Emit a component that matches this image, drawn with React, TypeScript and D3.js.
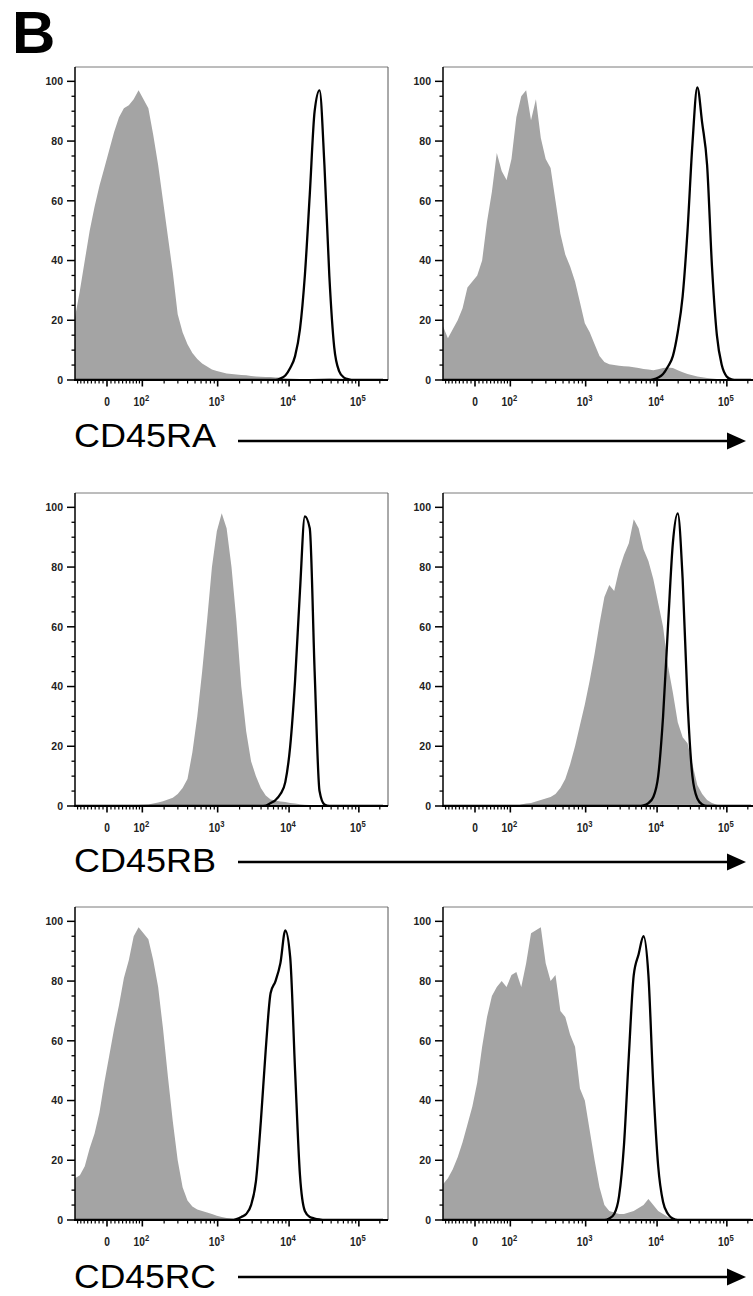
import React from 'react';
import * as d3 from 'd3';

// histogram bins, display channels (256 channel logicle axis)
const channels = [
  0, 4, 8, 12, 16, 20, 24, 28, 32, 36, 40, 44, 48, 52, 56, 60,
  64, 68, 72, 76, 80, 84, 88, 92, 96, 100, 104, 108, 112, 116, 120, 124,
  128, 132, 136, 140, 144, 148, 152, 156, 160, 164, 168, 172, 176, 180, 184, 188,
  192, 196, 200, 204, 208, 212, 216, 220, 224, 228, 232, 236, 240, 244, 248, 252,
];

const markers = ['CD45RA', 'CD45RB', 'CD45RC'];

const yTicks = [0, 20, 40, 60, 80, 100];
const yMinorTicks = [5, 10, 15, 25, 30, 35, 45, 50, 55, 65, 70, 75, 85, 90, 95];
const xTicks = [0, 100, 1000, 10000, 100000];
const xTickExp = ['', '2', '3', '4', '5'];
const xMinorTicks = [
  -80, -70, -60, -50, -40, -30, -20, -10,
  10, 20, 30, 40, 50, 60, 70, 80, 90,
  200, 300, 400, 500, 600, 700, 800, 900,
  2000, 3000, 4000, 5000, 6000, 7000, 8000, 9000,
  20000, 30000, 40000, 50000, 60000, 70000, 80000, 90000,
  200000,
];

// % of max, grey = control, black = stained
const raLeftGrey = [
  21, 30, 40, 50, 58, 65, 71, 77, 83, 88,
  91, 92, 94, 97, 94, 91, 82, 72, 60, 48,
  36, 22, 16, 12, 9, 7, 5.5, 4.5, 3.5, 3,
  2.6, 2.2, 2, 1.8, 1.7, 1.6, 1.3, 1.2, 1.1, 1,
  1, 0.8, 0.8, 0.6, 0.5, 0.4, 0.3, 0.3, 0.3, 0.4,
  0.5, 0.6, 0.7, 0.6, 0.5, 0.4, 0.3, 0.2, 0.1, 0,
  0, 0, 0, 0,
];
const raLeftBlack = [
  0, 0, 0, 0, 0, 0, 0, 0, 0, 0,
  0, 0, 0, 0, 0, 0, 0, 0, 0, 0,
  0, 0, 0, 0, 0, 0, 0, 0, 0, 0,
  0, 0, 0, 0, 0, 0, 0, 0, 0, 0,
  0, 0, 0.5, 1.5, 4, 8, 17, 35, 62, 90,
  97, 72, 35, 11, 3, 0.8, 0.2, 0, 0, 0,
  0, 0, 0, 0,
];
const raRightGrey = [
  18, 14, 17, 20, 24, 31, 33, 35, 40, 53,
  63, 76, 70, 67, 74, 88, 95, 97, 87, 94,
  81, 74, 71, 60, 49, 42, 38, 33, 26, 19,
  16, 12, 8, 6, 5.3, 5, 4.8, 4.6, 4.5, 4.3,
  4, 3.7, 3.5, 3.3, 3.6, 4, 4.2, 4, 3.3, 2.6,
  2, 1.6, 1.2, 0.9, 0.7, 0.5, 0.3, 0.2, 0, 0,
  0, 0, 0, 0,
];
const raRightBlack = [
  0, 0, 0, 0, 0, 0, 0, 0, 0, 0,
  0, 0, 0, 0, 0, 0, 0, 0, 0, 0,
  0, 0, 0, 0, 0, 0, 0, 0, 0, 0,
  0, 0, 0, 0, 0, 0, 0, 0, 0, 0,
  0, 0, 0, 0.2, 0.8, 2, 4.5, 8, 16, 28,
  50, 79, 98, 86, 72, 38, 15, 5, 1.2, 0.2,
  0, 0, 0, 0,
];
const rbLeftGrey = [
  0, 0, 0, 0, 0, 0, 0, 0, 0, 0,
  0.1, 0.2, 0.2, 0.3, 0.4, 0.5, 0.8, 1.2, 1.6, 2.2,
  2.8, 4, 6, 9, 18, 30, 45, 62, 80, 92,
  98, 93, 80, 62, 40, 25, 15, 10, 6, 3.5,
  2.2, 1.8, 1.5, 1.3, 1, 0.8, 0.6, 0.4, 0.3, 0.2,
  0, 0, 0, 0, 0, 0, 0, 0, 0, 0,
  0, 0, 0, 0,
];
const rbLeftBlack = [
  0, 0, 0, 0, 0, 0, 0, 0, 0, 0,
  0, 0, 0, 0, 0, 0, 0, 0, 0, 0,
  0, 0, 0, 0, 0, 0, 0, 0, 0, 0,
  0, 0, 0, 0, 0, 0, 0, 0, 0, 0.1,
  1, 2, 4, 8, 20, 42, 72, 97, 93, 45,
  5, 0.5, 0, 0, 0, 0, 0, 0, 0, 0,
  0, 0, 0, 0,
];
const rbRightGrey = [
  0, 0, 0, 0, 0, 0, 0, 0, 0, 0,
  0, 0, 0, 0, 0, 0, 0.5, 0.8, 1, 1.5,
  2, 2.5, 3, 4, 6, 9, 14, 20, 27, 34,
  42, 51, 61, 70, 74, 72, 79, 84, 88, 96,
  93, 86, 82, 76, 68, 60, 47, 38, 28, 23,
  21, 14, 7, 4, 2, 1, 0.4, 0, 0, 0,
  0, 0, 0, 0,
];
const rbRightBlack = [
  0, 0, 0, 0, 0, 0, 0, 0, 0, 0,
  0, 0, 0, 0, 0, 0, 0, 0, 0, 0,
  0, 0, 0, 0, 0, 0, 0, 0, 0, 0,
  0, 0, 0, 0, 0, 0, 0, 0, 0, 0,
  0, 0.2, 1, 3, 10, 30, 60, 88, 98, 76,
  35, 10, 2.5, 0.5, 0, 0, 0, 0, 0, 0,
  0, 0, 0, 0,
];
const rcLeftGrey = [
  14, 15, 18, 24, 29, 36, 46, 55, 64, 72,
  81, 87, 95, 98, 96, 94, 87, 78, 64, 48,
  33, 20, 11, 6.5, 4.5, 3.5, 3, 2.5, 2, 1.4,
  1, 0.7, 0.5, 0.3, 0.2, 0.2, 0.2, 0.2, 0.1, 0.1,
  0, 0, 0, 0, 0, 0, 0, 0, 0, 0,
  0, 0, 0, 0, 0, 0, 0, 0, 0, 0,
  0, 0, 0, 0,
];
const rcLeftBlack = [
  0, 0, 0, 0, 0, 0, 0, 0, 0, 0,
  0, 0, 0, 0, 0, 0, 0, 0, 0, 0,
  0, 0, 0, 0, 0, 0, 0, 0, 0, 0,
  0, 0, 0, 0.3, 1, 2, 5, 13, 33, 57,
  76, 80, 86, 97, 88, 50, 15, 3, 1, 0.5,
  0.2, 0, 0, 0, 0, 0, 0, 0, 0, 0,
  0, 0, 0, 0,
];
const rcRightGrey = [
  12, 14, 17, 21, 26, 32, 38, 46, 58, 68,
  75, 78, 80, 78, 82, 83, 78, 86, 96, 97,
  98, 86, 80, 82, 70, 68, 62, 58, 44, 40,
  30, 20, 11, 5, 3, 2.5, 2, 2, 2.5, 3,
  4, 5, 7, 5, 3, 2, 1, 0.5, 0.3, 0,
  0, 0, 0, 0, 0, 0, 0, 0, 0, 0,
  0, 0, 0, 0,
];
const rcRightBlack = [
  0, 0, 0, 0, 0, 0, 0, 0, 0, 0,
  0, 0, 0, 0, 0, 0, 0, 0, 0, 0,
  0, 0, 0, 0, 0, 0, 0, 0, 0, 0,
  0, 0, 0, 0, 0.5, 2, 8, 25, 55, 82,
  89, 95, 82, 45, 18, 6, 2, 0.5, 0, 0,
  0, 0, 0, 0, 0, 0, 0, 0, 0, 0,
  0, 0, 0, 0,
];

const rows = [
  { label: markers[0], panels: [[raLeftGrey, raLeftBlack], [raRightGrey, raRightBlack]] },
  { label: markers[1], panels: [[rbLeftGrey, rbLeftBlack], [rbRightGrey, rbRightBlack]] },
  { label: markers[2], panels: [[rcLeftGrey, rcLeftBlack], [rcRightGrey, rcRightBlack]] },
];

// layout
const PW = 313;
const PH = 313;
const colX = [75, 443];
const rowY = [67, 493, 907];
const labelBase = [447, 872, 1288];
const arrowY = [441, 862, 1277];
const FONT = '"Liberation Sans", Arial, Helvetica, sans-serif';

// logicle (biexponential) display transform, like FlowJo
const T = 262144;
const M = 4.5;
const W = 0.46;
const solveP = (w: number) => {
  let lo = 1.0001;
  let hi = 50;
  for (let k = 0; k < 80; k++) {
    const p = (lo + hi) / 2;
    if ((2 * p * Math.log10(p)) / (p + 1) < w) lo = p;
    else hi = p;
  }
  return (lo + hi) / 2;
};
const P = solveP(W);
const biexp = (yd: number) => {
  const d = yd - W;
  const a = Math.abs(d);
  const v = T * Math.pow(10, -(M - W)) * (Math.pow(10, a) - P * P * Math.pow(10, -a / P) + P * P - 1);
  return d < 0 ? -v : v;
};
const toChannel = (v: number) => {
  let lo = 0;
  let hi = M;
  for (let k = 0; k < 60; k++) {
    const mid = (lo + hi) / 2;
    if (biexp(mid) < v) lo = mid;
    else hi = mid;
  }
  return ((lo + hi) / 2 / M) * 256;
};

const x = d3.scaleLinear().domain([0, 256]).range([0, PW]);
const y = d3.scaleLinear().domain([0, 104.8]).range([PH, 0]);

const greyArea = d3
  .area<number>()
  .x((d, i) => x(channels[i]))
  .y0(PH)
  .y1((d) => y(d));
const blackLine = d3
  .line<number>()
  .x((d, i) => x(channels[i]))
  .y((d) => y(d))
  .curve(d3.curveMonotoneX);

function Panel({ left, top, grey, black, id }: any) {
  return (
    <g transform={`translate(${left},${top})`}>
      <clipPath id={id}>
        <rect x={0} y={-2} width={PW} height={PH + 2} />
      </clipPath>
      <g clipPath={`url(#${id})`}>
        <path d={greyArea(grey) || ''} fill="#a4a4a4" />
        <path d={blackLine(black) || ''} fill="none" stroke="#000" strokeWidth={2.3} strokeLinejoin="round" />
      </g>
      <line x1={0} y1={0} x2={PW} y2={0} stroke="#7a7a7a" strokeWidth={1} />
      <line x1={PW} y1={0} x2={PW} y2={PH} stroke="#555" strokeWidth={1} />
      <line x1={0} y1={0} x2={0} y2={PH} stroke="#000" strokeWidth={1.5} />
      <line x1={-1} y1={PH} x2={PW} y2={PH} stroke="#000" strokeWidth={2} />

      {yMinorTicks.map((t) => (
        <line key={'ym' + t} x1={-3.5} x2={0} y1={y(t)} y2={y(t)} stroke="#000" strokeWidth={1.3} />
      ))}
      {yTicks.map((t) => (
        <g key={'y' + t}>
          <line x1={-8} x2={0} y1={y(t)} y2={y(t)} stroke="#000" strokeWidth={1.5} />
          <text
            x={-12}
            y={y(t)}
            dy="0.36em"
            textAnchor="end"
            fontFamily={FONT}
            fontWeight="bold"
            fontSize={10.5}
            fill="#222"
          >
            {t}
          </text>
        </g>
      ))}

      {xMinorTicks.map((t) => {
        const px = x(toChannel(t));
        return <line key={'xm' + t} x1={px} x2={px} y1={PH} y2={PH + 3.5} stroke="#000" strokeWidth={1.2} />;
      })}
      {xTicks.map((t, i) => {
        const px = x(toChannel(t));
        return (
          <g key={'x' + t}>
            <line x1={px} x2={px} y1={PH} y2={PH + 6.5} stroke="#000" strokeWidth={1.6} />
            <g transform={`translate(${i === 0 ? px : px - 1},${PH + 26}) scale(0.85,1)`}>
              <text textAnchor="middle" fontFamily={FONT} fontWeight="bold" fontSize={12} fill="#222">
                {i === 0 ? '0' : '10'}
                {xTickExp[i] ? (
                  <tspan fontSize={9} dy={-5}>
                    {xTickExp[i]}
                  </tspan>
                ) : null}
              </text>
            </g>
          </g>
        );
      })}
    </g>
  );
}

export default function App() {
  return (
    <svg
      width={753}
      height={1296}
      viewBox="0 0 753 1296"
      style={{ position: 'absolute', left: 0, top: 0, background: '#fff', overflow: 'hidden' }}
    >
      <rect width={753} height={1296} fill="#fff" />
      <text x={12} y={53} fontFamily={FONT} fontWeight="bold" fontSize={60} fill="#000">
        B
      </text>
      {rows.map((row, r) => (
        <g key={row.label}>
          {row.panels.map((pair, c) => (
            <Panel key={c} id={`clip-${r}-${c}`} left={colX[c]} top={rowY[r]} grey={pair[0]} black={pair[1]} />
          ))}
          <text
            x={74}
            y={labelBase[r]}
            fontFamily={FONT}
            fontSize={32.5}
            textLength={142}
            lengthAdjust="spacingAndGlyphs"
            fill="#000"
          >
            {row.label}
          </text>
          <line x1={238} y1={arrowY[r]} x2={729} y2={arrowY[r]} stroke="#000" strokeWidth={2.5} />
          <polygon
            points={`727,${arrowY[r] - 8.5} 746,${arrowY[r]} 727,${arrowY[r] + 8.5}`}
            fill="#000"
          />
        </g>
      ))}
    </svg>
  );
}
